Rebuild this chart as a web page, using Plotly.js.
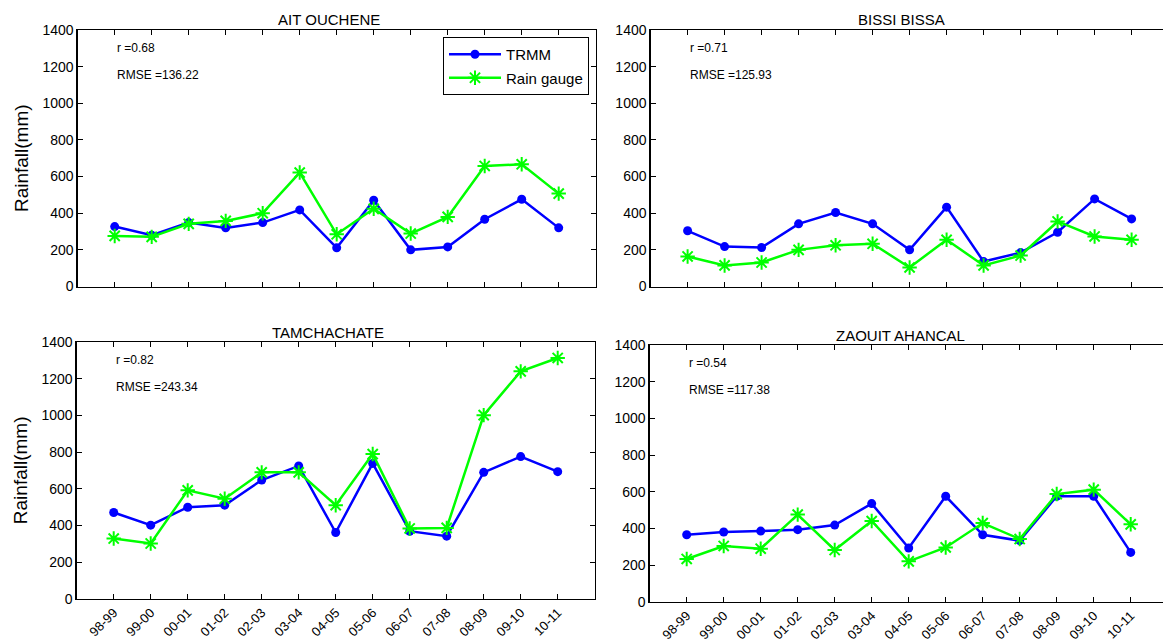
<!DOCTYPE html>
<html>
<head>
<meta charset="utf-8">
<script src="https://cdn.plot.ly/plotly-3.0.1.min.js"></script>
<style>
html, body { margin: 0; padding: 0; overflow: hidden; background: #fff; }
#chart { width: 1170px; height: 641px; }
</style>
</head>
<body>
<div id="chart"></div>
<script>
// ---- data ----
const years = ['98-99','99-00','00-01','01-02','02-03','03-04','04-05','05-06','06-07','07-08','08-09','09-10','10-11'];

const stationNames = ['AIT OUCHENE', 'BISSI BISSA', 'TAMCHACHATE', 'ZAOUIT AHANCAL'];
const rValues = ['0.68', '0.71', '0.82', '0.54'];
const rmseValues = ['136.22', '125.93', '243.34', '117.38'];

const aitTrmm   = [327, 280, 349, 320, 349, 418, 211, 471, 200, 216, 367, 476, 320];
const aitGauge  = [276, 271, 342, 358, 400, 622, 285, 424, 289, 380, 658, 667, 507];
const bissiTrmm  = [304, 218, 213, 342, 404, 342, 200, 433, 136, 185, 296, 478, 369];
const bissiGauge = [164, 115, 131, 200, 225, 233, 104, 255, 115, 169, 355, 273, 255];
const tamTrmm   = [470, 401, 499, 510, 647, 724, 361, 738, 368, 341, 689, 775, 693];
const tamGauge  = [328, 301, 591, 545, 689, 689, 510, 789, 383, 386, 1001, 1240, 1313];
const zaoTrmm   = [365, 380, 385, 393, 418, 535, 293, 575, 365, 333, 575, 575, 269];
const zaoGauge  = [233, 304, 289, 475, 282, 440, 220, 296, 429, 342, 587, 611, 422];

const trmmSeries  = [aitTrmm, bissiTrmm, tamTrmm, zaoTrmm];
const gaugeSeries = [aitGauge, bissiGauge, tamGauge, zaoGauge];
const seriesNames = ['TRMM', 'Rain gauge'];
const yTicks = [0, 200, 400, 600, 800, 1000, 1200, 1400];

// ---- layout geometry (pixels in a 1170 x 641 canvas) ----
const W = 1170, H = 641;
const boxes = [
  {l: 77.7,  r: 595.7,  t: 30,  b: 286.5},
  {l: 650.6, r: 1168.6, t: 30,  b: 286.5},
  {l: 76.7,  r: 594.7,  t: 342, b: 598.7},
  {l: 649.7, r: 1167.7, t: 345, b: 601.7}
];

const FONT = 'Liberation Sans, Arial, Helvetica, sans-serif';
const BLUE = '#0000ff', GREEN = '#00ff00';

const traces = [];
const layout = {
  width: W, height: H,
  margin: {l: 0, r: 0, t: 0, b: 0},
  paper_bgcolor: '#ffffff',
  plot_bgcolor: '#ffffff',
  font: {family: FONT, size: 14, color: '#000'},
  showlegend: true,
  legend: {
    x: 589 / W, xanchor: 'right',
    y: 1 - 37 / H, yanchor: 'top',
    bgcolor: '#ffffff',
    bordercolor: '#000000', borderwidth: 1,
    font: {family: FONT, size: 15, color: '#000'},
    traceorder: 'grouped',
    tracegroupgap: 1,
    itemwidth: 52
  },
  annotations: [],
  shapes: []
};

for (let i = 0; i < 4; i++) {
  const n = i === 0 ? '' : String(i + 1);
  const xa = 'x' + n, ya = 'y' + n;
  const bx = boxes[i];
  const isBottom = i >= 2;
  const isLeft = i % 2 === 0;

  traces.push({
    type: 'scatter', mode: 'lines+markers',
    x: years, y: trmmSeries[i],
    xaxis: xa, yaxis: ya,
    name: seriesNames[0],
    legendgroup: 'trmm',
    showlegend: i === 0,
    line: {color: BLUE, width: 2.5},
    marker: {symbol: 'circle', size: 9, color: BLUE}
  });
  traces.push({
    type: 'scatter', mode: 'lines+markers',
    x: years, y: gaugeSeries[i],
    xaxis: xa, yaxis: ya,
    name: seriesNames[1],
    legendgroup: 'gauge',
    showlegend: i === 0,
    line: {color: GREEN, width: 2.5},
    marker: {symbol: 'asterisk-open', size: 12, color: GREEN,
             line: {color: GREEN, width: 2}}
  });

  layout['xaxis' + n] = {
    domain: [bx.l / W, bx.r / W],
    anchor: ya,
    type: 'category',
    categoryorder: 'array', categoryarray: years,
    range: [-1, 13],
    showgrid: false, zeroline: false,
    showline: true, linecolor: '#000', linewidth: 1.3,
    mirror: 'ticks',
    ticks: 'inside', ticklen: 5, tickwidth: 1, tickcolor: '#000',
    showticklabels: isBottom,
    tickangle: -45,
    tickfont: {family: FONT, size: 13, color: '#000'},
    fixedrange: true
  };
  layout['yaxis' + n] = {
    domain: [1 - bx.b / H, 1 - bx.t / H],
    anchor: xa,
    range: [0, 1400],
    tickvals: yTicks,
    showgrid: false, zeroline: false,
    showline: true, linecolor: '#000', linewidth: 1.3,
    mirror: 'ticks',
    ticks: 'inside', ticklen: 5, tickwidth: 1, tickcolor: '#000',
    tickfont: {family: FONT, size: 14, color: '#000'},
    title: isLeft ? {text: 'Rainfall(mm)', font: {family: FONT, size: 19, color: '#000'}, standoff: 8} : {text: ''},
    fixedrange: true
  };

  // subplot title
  layout.annotations.push({
    xref: 'paper', yref: 'paper',
    x: (bx.l + bx.r) / 2 / W - 8 / W,
    y: 1 - (bx.t - 10) / H,
    xanchor: 'center', yanchor: 'middle',
    text: stationNames[i], showarrow: false,
    font: {family: FONT, size: 15, color: '#000'}
  });
  // statistics text
  layout.annotations.push({
    xref: xa, yref: ya,
    x: years[0], y: 1300,
    xanchor: 'left', yanchor: 'middle',
    text: 'r =' + rValues[i], showarrow: false,
    font: {family: FONT, size: 12, color: '#000'}
  });
  layout.annotations.push({
    xref: xa, yref: ya,
    x: years[0], y: 1155,
    xanchor: 'left', yanchor: 'middle',
    text: 'RMSE =' + rmseValues[i], showarrow: false,
    font: {family: FONT, size: 12, color: '#000'}
  });
}

Plotly.newPlot('chart', traces, layout, {displayModeBar: false, staticPlot: true});
</script>
</body>
</html>
